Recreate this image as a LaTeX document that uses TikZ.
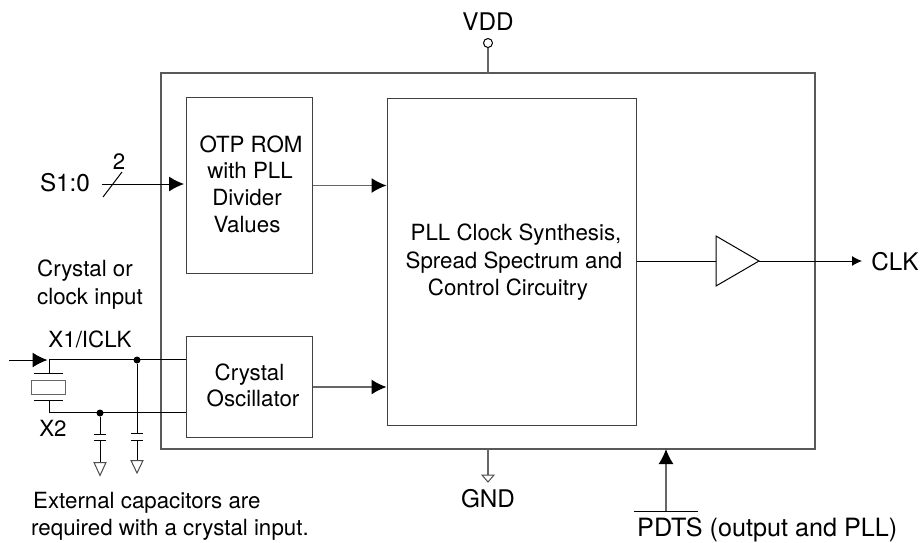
\documentclass[tikz,border=0pt]{standalone}
\usepackage{fontspec}
\setmainfont{TeX Gyre Heros}
\usetikzlibrary{arrows.meta}
\tikzset{
  x=1pt,y=-1pt,
  outerbox/.style={draw=black!65,line width=1.2pt,minimum width=654pt,minimum height=376pt,inner sep=0pt},
  blockbox/.style={draw=black!75,line width=1pt,inner sep=0pt},
  wire/.style={draw=black,line width=1pt},
  greywire/.style={draw=black!60,line width=1.3pt},
  arrowwire/.style={wire,-{Latex[length=15pt,width=15pt]}},
  bigarrow/.style={greywire,-{Latex[black,length=15pt,width=15pt]}},
  smallarrow/.style={-{Latex[length=10pt,width=10pt]}},
  lab/.style={font=\fontsize{22.3}{26}\selectfont,inner sep=0pt,anchor=base},
  biglab/.style={font=\fontsize{24.3}{28}\selectfont,inner sep=0pt,anchor=base},
  junction/.style={circle,fill=black,inner sep=0pt,minimum size=7pt},
  gndtri/.style={draw=black!70,fill=white,line width=1pt,line join=miter},
  pin/.style={circle,draw=black,fill=white,line width=1pt,inner sep=0pt,minimum size=9pt},
}
\begin{document}
\begin{tikzpicture}
\useasboundingbox (0,0) rectangle (923,542);
% boxes
\node[outerbox] (chip) at (488,261) {};
\node[blockbox,minimum width=126pt,minimum height=175.5pt] (otp) at (249,185.3) {};
\node[blockbox,minimum width=126pt,minimum height=100.5pt] (osc) at (249,386.8) {};
\node[blockbox,minimum width=249pt,minimum height=327pt] (pll) at (511.5,261.5) {};
\coordinate (bufin) at (716,261);
\coordinate (bufout) at (759,261);
\draw[wire] (716,236) -- (bufout) -- (716,286) -- cycle;
% box text
\node[lab] at (251,152) {OTP ROM};
\node[lab] at (250,178) {with PLL};
\node[lab] at (247,205.7) {Divider};
\node[lab] at (247,232.7) {Values};
\node[lab] at (249.5,380) {Crystal};
\node[lab] at (253,406.7) {Oscillator};
\node[lab] at (516,240.7) {PLL Clock Synthesis,};
\node[lab] at (514,268) {Spread Spectrum and};
\node[lab] at (508,295) {Control Circuitry};
% labels
\node[biglab] (vddl) at (488,30) {VDD};
\node[biglab] (gndl) at (488,507.3) {GND};
\node[biglab] (clkl) at (895,270.5) {CLK};
\node[biglab] (sl) at (65,191.5) {S1:0};
\node[lab] at (119,169) {2};
\node[lab,anchor=base west] at (37,276.7) {Crystal or};
\node[lab,anchor=base west] at (37,304) {clock input};
\node[lab] at (90,347.3) {X1/ICLK};
\node[lab] at (53,436.7) {X2};
\node[lab,anchor=base west] at (33,508) {External capacitors are};
\node[lab,anchor=base west] at (31,535) {required with a crystal input.};
\node[biglab,anchor=base west,font=\fontsize{25.2}{29}\selectfont] (pdts) at (637,536.7) {PDTS (output and PLL)};
% VDD
\node[pin] (vddpin) at (488,43) {};
\draw[greywire] (vddpin) -- (488,73);
% GND
\coordinate (gndt) at (488,475);
\draw[greywire] (488,449) -- (gndt);
\draw[gndtri] (482,475) -- (494,475) -- (488,482) -- cycle;
% PDTS
\coordinate (pdtsbar) at (666,511);
\draw[bigarrow] (pdtsbar) -- (666,449);
\draw[wire] (634,511) -- (698,511);
% S bus
\coordinate (sstart) at (102,184);
\draw[arrowwire] (sstart) -- (184,184);
\draw[wire] (103,197) -- (122,172);
% internal arrows
\draw[bigarrow] (otp.east |- 0,185.5) -- (pll.west |- 0,185.5);
\draw[bigarrow] (osc.east |- 0,387) -- (pll.west |- 0,387);
\draw[wire] (pll.east |- bufin) -- (bufin);
\coordinate (clkend) at (862,261);
\draw[wire,smallarrow] (bufout) -- (clkend);
% crystal
\coordinate (xtop) at (49,359);
\coordinate (xbot) at (49,412);
\node[junction] (j1) at (137,360) {};
\node[junction] (j2) at (100,413) {};
\draw[arrowwire] (9,360) -- (47.5,360);
\draw[wire] (osc.west |- xtop) -- (xtop) -- (49,373);
\draw[wire] (osc.west |- xbot) -- (xbot) -- (49,400);
\draw[wire] (34,373) -- (63,373);
\draw[wire] (34,400) -- (63,400);
\draw[blockbox,draw=black!60] (31,380.7) rectangle (65.5,394);
% caps
\draw[wire] (j1) -- (137,433);
\draw[wire] (131,433) -- (143,433);
\draw[wire] (131,440) -- (143,440);
\draw[wire] (137,440) -- (137,460.5);
\draw[gndtri] (131,460.5) -- (143,460.5) -- (137,473) -- cycle;
\draw[wire] (j2) -- (100,434);
\draw[wire] (94,434) -- (106,434);
\draw[wire] (94,440) -- (106,440);
\draw[wire] (100,440) -- (100,462.5);
\draw[gndtri] (94,462.5) -- (106,462.5) -- (100,475.5) -- cycle;
\end{tikzpicture}
\end{document}
